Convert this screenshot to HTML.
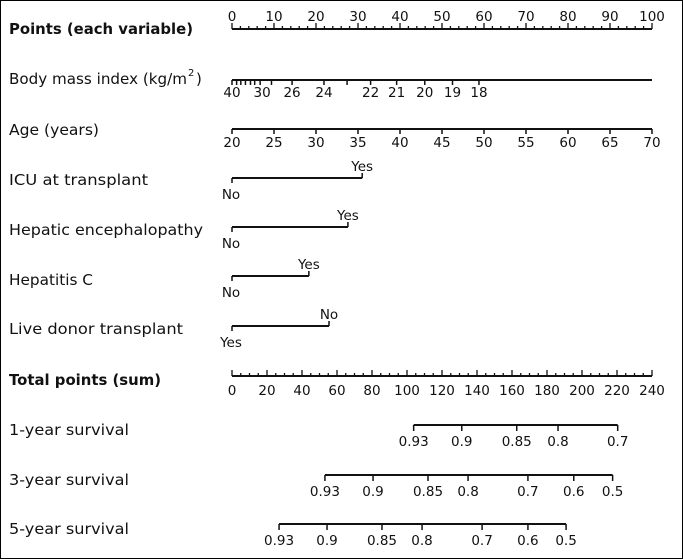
<!DOCTYPE html>
<html><head><meta charset="utf-8"><style>
body{margin:0;background:#fff}
svg{display:block}
text{font-family:"DejaVu Sans","Liberation Sans",sans-serif;fill:#111}
</style></head><body>
<svg id="chart" width="683" height="559" xmlns="http://www.w3.org/2000/svg">
<rect x="0.5" y="0.5" width="682" height="558" fill="#fff" stroke="#000"/>
<g id="g"></g>
</svg>
<script>
// ---- data ----
const pointTicks = [0,10,20,30,40,50,60,70,80,90,100];
const bmiValues = [40,30,26,24,22,21,20,19,18];
const bmiPoints = [0,6.7,14.3,21.9,33,39.2,45.9,52.5,58.8];
const bmiMinorPoints = [1.1,2.1,3.2,4.4,5.4,9.4,27.4];
const ageValues = [20,25,30,35,40,45,50,55,60,65,70];
const icuPoints = [0,31];
const hePoints = [0,27.6];
const hcvPoints = [0,18.3];
const ldPoints = [0,23.1];
const totalTicks = [0,20,40,60,80,100,120,140,160,180,200,220,240];
const surv1Labels = ["0.93","0.9","0.85","0.8","0.7"];
const surv1Total = [103.8,131.3,162.7,186.3,220.4];
const surv3Labels = ["0.93","0.9","0.85","0.8","0.7","0.6","0.5"];
const surv3Total = [53.1,80.6,112,134.9,169.1,195.3,217.5];
const surv5Labels = ["0.93","0.9","0.85","0.8","0.7","0.6","0.5"];
const surv5Total = [26.9,54.3,85.7,108.6,142.9,169.1,190.9];

const X0=232, X1=652;
const px = p => X0 + (X1-X0)*p/100;
const tx = t => X0 + (X1-X0)*t/240;
const ax = a => X0 + (X1-X0)*(a-20)/50;
const g = document.getElementById('g');
const NS='http://www.w3.org/2000/svg';
const FS=13.5;
function line(x1,y1,x2,y2,w,name){const l=document.createElementNS(NS,'line');
l.setAttribute('x1',x1);l.setAttribute('y1',y1);l.setAttribute('x2',x2);l.setAttribute('y2',y2);
l.setAttribute('stroke','#111');l.setAttribute('stroke-width',w||2);


g.appendChild(l);return l;}
function text(x,y,s,name,opts){opts=opts||{};const t=document.createElementNS(NS,'text');
t.setAttribute('x',x);t.setAttribute('y',y);t.textContent=s;
t.setAttribute('font-size',opts.size||FS);
if(opts.anchor)t.setAttribute('text-anchor',opts.anchor);
if(opts.bold)t.setAttribute('font-weight','bold');
if(opts.len){t.setAttribute('textLength',opts.len);t.setAttribute('lengthAdjust','spacingAndGlyphs');}


g.appendChild(t);return t;}

// row labels
const rows=[["Points (each variable)",34,184,true],["Body mass index (kg/m",84,178,false],["Age (years)",135,90,false],
["ICU at transplant",185,139,false],["Hepatic encephalopathy",235,194,false],["Hepatitis C",285,84,false],
["Live donor transplant",334,174,false],["Total points (sum)",385,152,true],["1-year survival",435,120,false],
["3-year survival",485,120,false],["5-year survival",534,120,false]];
rows.forEach(r=>text(9,r[1],r[0],'row-label',{size:15,bold:r[3],len:r[2]}));
text(188,76,'2','bmi-superscript',{size:10});
text(196,84,')','bmi-paren',{size:15});

// points axis
let y=29; line(X0,y,X1,y,2,'points-axis-line');
for(let i=0;i<=100;i+=2){line(px(i),y,px(i),y-(i%10==0?6:3),1.3,'points-tick');}
pointTicks.forEach(v=>text(px(v),21,String(v),'points-tick-label',{anchor:'middle'}));

// BMI
y=80; line(X0,y,X1,y,2,'bmi-axis-line');
bmiPoints.forEach((p,i)=>{line(px(p),y,px(p),y+5,1.5,'bmi-tick');text(px(p)+(i==1?2:0),97,String(bmiValues[i]),'bmi-tick-label',{anchor:'middle'});});
bmiMinorPoints.forEach(p=>line(px(p),y,px(p),y+5,1.5,'bmi-minor-tick'));

// Age
y=129; line(X0,y,X1,y,2,'age-axis-line');
ageValues.forEach(a=>{line(ax(a),y,ax(a),y+5,1.5,'age-tick');text(ax(a),147,String(a),'age-tick-label',{anchor:'middle'});});

// binary rows
function binary(pts,y,labs,name){line(px(pts[0]),y,px(pts[1]),y,2,name+'-line');
line(px(pts[0]),y,px(pts[0]),y+5,1.5,name+'-tick');line(px(pts[1]),y,px(pts[1]),y-5,1.5,name+'-tick');
text(px(pts[0])-1,y+21,labs[0],name+'-label-low',{anchor:'middle'});
text(px(pts[1]),y-7,labs[1],name+'-label-high',{anchor:'middle'});}
binary(icuPoints,178,["No","Yes"],'icu');
binary(hePoints,227,["No","Yes"],'hepatic-encephalopathy');
binary(hcvPoints,276,["No","Yes"],'hepatitis-c');
binary(ldPoints,326,["Yes","No"],'live-donor');

// total points
y=376; line(X0,y,X1,y,2,'total-axis-line');
for(let i=0;i<=240;i+=5){line(tx(i),y,tx(i),y-(i%20==0?6:3),1.3,'total-tick');}
totalTicks.forEach(v=>text(tx(v),395,String(v),'total-tick-label',{anchor:'middle'}));

// survival
function surv(vals,labs,y,name){line(tx(vals[0]),y,tx(vals[vals.length-1]),y,2,name+'-line');
vals.forEach((v,i)=>{line(tx(v),y,tx(v),y+6,1.5,name+'-tick');text(tx(v),y+21,labs[i],name+'-tick-label',{anchor:'middle'});});}
surv(surv1Total,surv1Labels,425,'survival-1yr');
surv(surv3Total,surv3Labels,475,'survival-3yr');
surv(surv5Total,surv5Labels,524,'survival-5yr');
</script>
</body></html>
